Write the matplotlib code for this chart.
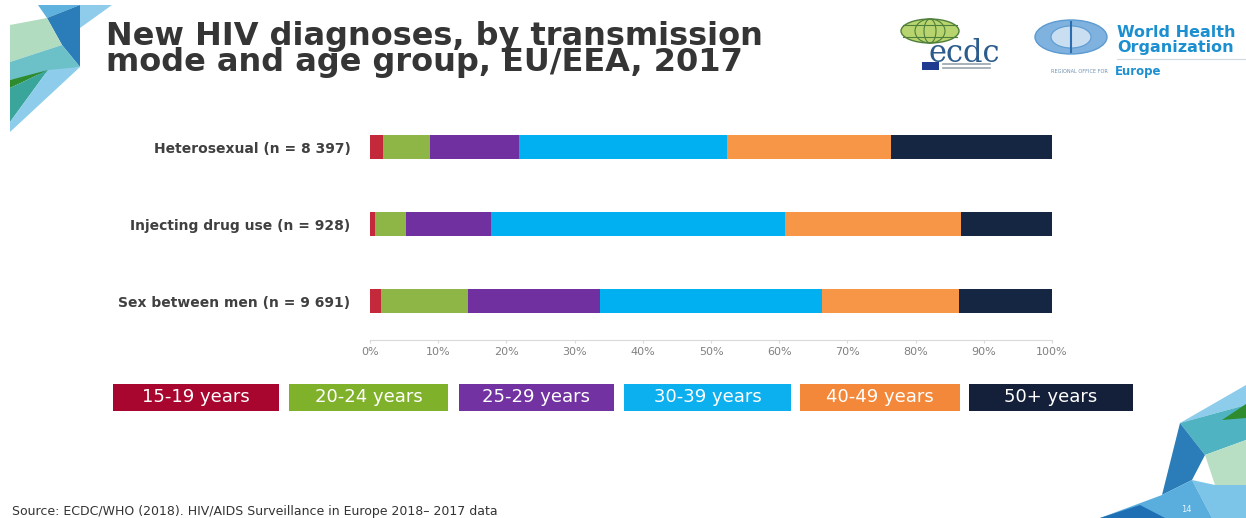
#!/usr/bin/env python3
"""
New HIV diagnoses by transmission mode and age group, EU/EEA, 2017.

Horizontal 100 % stacked bars with a slide-style header, logos and key.
"""

import matplotlib
matplotlib.use("Agg")
import matplotlib.pyplot as plt
from matplotlib.patches import Polygon, Rectangle, Ellipse
from matplotlib.ticker import PercentFormatter

W, H = 1246, 518

# Transmission modes (top to bottom) and share of diagnoses per age group (%)
modes = ["Heterosexual (n = 8 397)",
         "Injecting drug use (n = 928)",
         "Sex between men (n = 9 691)"]
age_groups = ["15-19 years", "20-24 years", "25-29 years",
              "30-39 years", "40-49 years", "50+ years"]
pct_15_19 = [1.9, 0.8, 1.6]
pct_20_24 = [6.9, 4.5, 12.8]
pct_25_29 = [13.0, 12.4, 19.3]
pct_30_39 = [30.5, 43.2, 32.6]
pct_40_49 = [24.1, 25.8, 20.1]
pct_50_plus = [23.6, 13.3, 13.6]
x_ticks = [0, 10, 20, 30, 40, 50, 60, 70, 80, 90, 100]

bar_colors = ["#C3283B", "#8DB646", "#7030A0", "#00B0F0", "#F79646", "#142641"]
key_colors = ["#A8062E", "#80B12A", "#7232A2", "#0DB0EE", "#F4883A", "#14203A"]


def fx(x):
    return x / W


def fy(y):
    return 1 - y / H


def poly(fig, pts, color, alpha=1.0):
    fig.patches.append(Polygon([(fx(x), fy(y)) for x, y in pts], closed=True,
                               transform=fig.transFigure, facecolor=color,
                               edgecolor="none", alpha=alpha, zorder=1))


def draw_decor(fig):
    # top-left corner shards
    poly(fig, [(80, 5), (112, 5), (80, 28)], "#8FCBEA")
    poly(fig, [(38, 5), (80, 5), (47, 18)], "#5FB2DD")
    poly(fig, [(47, 18), (80, 5), (80, 67), (62, 45)], "#2A7DB8")
    poly(fig, [(10, 25), (47, 18), (62, 45), (10, 62)], "#B2DCC0")
    poly(fig, [(10, 62), (62, 45), (80, 67), (10, 80)], "#6CC0C8")
    poly(fig, [(10, 80), (48, 70), (10, 88)], "#2E8B2E")
    poly(fig, [(10, 88), (48, 70), (10, 122)], "#3AA59A")
    poly(fig, [(10, 132), (80, 67), (48, 70), (10, 122)], "#8DCDEB")

    # bottom-right corner shards
    poly(fig, [(1180, 423), (1246, 385), (1246, 405)], "#8DCDEB")
    poly(fig, [(1180, 423), (1246, 405), (1246, 440), (1205, 455)], "#4FB3C2")
    poly(fig, [(1222, 420), (1246, 404), (1246, 418)], "#2E8B2E")
    poly(fig, [(1205, 455), (1246, 440), (1246, 485), (1215, 485)], "#B8DEC4")
    poly(fig, [(1180, 423), (1162, 495), (1192, 480), (1205, 455)], "#2A7DB8")
    poly(fig, [(1192, 480), (1215, 485), (1246, 485), (1246, 518), (1212, 518)],
         "#7CC4E8")
    poly(fig, [(1100, 518), (1162, 495), (1192, 480), (1212, 518)], "#5AAEDD")
    poly(fig, [(1100, 518), (1140, 505), (1165, 518)], "#1F6FB5")
    fig.text(fx(1186), fy(510), "14", color="white", fontsize=6,
             ha="center", va="center", alpha=0.85)


def draw_logos(fig):
    tf = fig.transFigure
    # ECDC globe
    fig.patches.append(Ellipse((fx(930), fy(31)), fx(58), 24 / H, transform=tf,
                               facecolor="#B7D46E", edgecolor="#4F7F3A", lw=1.0))
    for w in (30, 12):
        fig.patches.append(Ellipse((fx(930), fy(31)), fx(w), 24 / H, transform=tf,
                                   facecolor="none", edgecolor="#4F7F3A", lw=0.8))
    for y in (25, 37):
        fig.lines.append(plt.Line2D([fx(903), fx(957)], [fy(y), fy(y)],
                                    transform=tf, color="#4F7F3A", lw=0.8))
    fig.text(fx(964), fy(53), "ecdc", color="#2C5C8C", fontsize=22,
             family="DejaVu Serif", ha="center", va="center")
    fig.patches.append(Rectangle((fx(922), fy(70)), fx(17), 8 / H, transform=tf,
                                 facecolor="#203A8F", edgecolor="none"))
    for y in (64, 68):
        fig.lines.append(plt.Line2D([fx(943), fx(990)], [fy(y), fy(y)],
                                    transform=tf, color="#9AA3AD", lw=1.2))

    # WHO emblem
    fig.patches.append(Ellipse((fx(1071), fy(37)), fx(72), 34 / H, transform=tf,
                               facecolor="#7FB2DE", edgecolor="#5C9BD1", lw=1.0))
    fig.patches.append(Ellipse((fx(1071), fy(37)), fx(40), 22 / H, transform=tf,
                               facecolor="#C9DEF0", edgecolor="#5C9BD1", lw=0.8))
    fig.lines.append(plt.Line2D([fx(1071), fx(1071)], [fy(22), fy(52)],
                                transform=tf, color="#2C6DB0", lw=1.5))
    fig.text(fx(1117), fy(37), "World Health", color="#1C8FD0", fontsize=11.5,
             weight="bold", ha="left", va="baseline")
    fig.text(fx(1117), fy(52), "Organization", color="#1C8FD0", fontsize=11.5,
             weight="bold", ha="left", va="baseline")
    fig.lines.append(plt.Line2D([fx(1117), fx(1246)], [fy(59), fy(59)],
                                transform=tf, color="#D0D8E0", lw=0.8))
    fig.text(fx(1108), fy(72), "REGIONAL OFFICE FOR", color="#6F8FB0",
             fontsize=3.6, ha="right", va="center")
    fig.text(fx(1115), fy(72), "Europe", color="#1C8FD0", fontsize=8.5,
             weight="bold", ha="left", va="center")


def main():
    fig = plt.figure(figsize=(W / 100, H / 100), dpi=100)
    fig.patch.set_facecolor("white")

    draw_decor(fig)
    draw_logos(fig)

    # two-line title
    fig.text(fx(106), fy(71), "New HIV diagnoses, by transmission\n"
             "mode and age group, EU/EEA, 2017", fontsize=23, weight="bold",
             color="#353535", ha="left", va="baseline", linespacing=0.8)

    # stacked bars
    ax = fig.add_axes([fx(370), fy(340), fx(1052) - fx(370), (340 - 125) / H])
    series = [pct_15_19, pct_20_24, pct_25_29, pct_30_39, pct_40_49, pct_50_plus]
    ypos = list(range(len(modes) - 1, -1, -1))
    left = [0.0] * len(modes)
    for values, color in zip(series, bar_colors):
        ax.barh(ypos, values, left=left, height=0.31, color=color, linewidth=0)
        left = [a + b for a, b in zip(left, values)]

    ax.set_xlim(0, 100)
    ax.set_ylim(-0.506, 2.286)
    ax.set_xticks(x_ticks)
    ax.xaxis.set_major_formatter(PercentFormatter(decimals=0))
    ax.set_yticks(ypos)
    ax.set_yticklabels(modes)
    for s in ("top", "right", "left"):
        ax.spines[s].set_visible(False)
    ax.spines["bottom"].set_color("#D9D9D9")
    ax.tick_params(axis="x", length=2, color="#D9D9D9", pad=3,
                   labelsize=8, labelcolor="#808080")
    ax.tick_params(axis="y", length=0, pad=14, labelsize=10, labelcolor="#404040")
    for lab in ax.get_yticklabels():
        lab.set_fontweight("bold")

    # colour key below the chart
    key_edges = [(113, 279), (289, 448), (459, 614), (624, 791), (800, 960), (969, 1133)]
    for label, color, (x0, x1) in zip(age_groups, key_colors, key_edges):
        fig.patches.append(Rectangle((fx(x0), fy(411)), fx(x1 - x0), 27 / H,
                                     transform=fig.transFigure, facecolor=color,
                                     edgecolor="none"))
        fig.text(fx((x0 + x1) / 2), fy(397.5), label, color="white", fontsize=13,
                 ha="center", va="center")

    fig.text(fx(12), fy(512), "Source: ECDC/WHO (2018). HIV/AIDS Surveillance in "
             "Europe 2018\u2013 2017 data", fontsize=9, color="#333333",
             ha="left", va="center")

    fig.savefig("out.png", dpi=100)


if __name__ == "__main__":
    main()
